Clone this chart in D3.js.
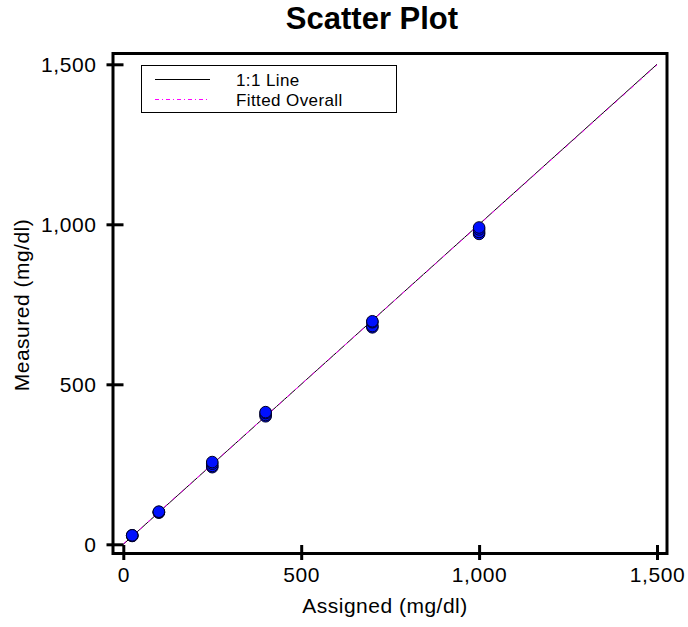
<!DOCTYPE html>
<html lang="en">
<head>
    <meta charset="UTF-8">
    <title>Scatter Plot</title>
    <style>
        body { margin: 0; background: #fff; }
        svg { display: block; font-family: 'Liberation Sans', Arial, sans-serif; }
    </style>
</head>
<body>
    <script src="https://cdnjs.cloudflare.com/ajax/libs/d3/7.8.5/d3.min.js"></script>
    <script>
        // data
        var assignedLevels = [25, 100, 250, 400, 700, 1000];
        var measuredValues = [
            [26, 27, 28, 28],
            [99, 100, 101, 102],
            [241, 245, 252, 257],
            [400, 404, 410, 413],
            [678, 682, 694, 697],
            [970, 976, 984, 990]
        ];
        var tickValues = [0, 500, 1000, 1500];
        var lineRange = [0, 1500];
        var fitSlope = 0.998;
        var fitIntercept = 1;
        var legendLabels = ['1:1 Line', 'Fitted Overall'];

        var points = [];
        assignedLevels.forEach(function (a, i) {
            measuredValues[i].forEach(function (m) {
                points.push({ x: a, y: m });
            });
        });

        var W = 688, H = 627;
        // frame box
        var frame = { left: 113, top: 53.5, right: 667, bottom: 553.5 };

        var x = d3.scaleLinear().domain([0, 1500]).range([123.3, 657]);
        var y = d3.scaleLinear().domain([0, 1500]).range([544.3, 64.3]);

        var svg = d3.select('body')
            .append('svg')
            .attr('width', W)
            .attr('height', H);

        // title
        svg.append('text')
            .attr('x', 372)
            .attr('y', 29)
            .attr('text-anchor', 'middle')
            .style('font-size', '31px')
            .style('font-weight', 'bold')
            .text('Scatter Plot');

        // 1:1 line
        svg.append('line')
            .attr('x1', x(lineRange[0]))
            .attr('y1', y(lineRange[0]))
            .attr('x2', x(lineRange[1]))
            .attr('y2', y(lineRange[1]))
            .attr('stroke', '#000')
            .attr('stroke-width', 1);

        // fitted line
        svg.append('line')
            .attr('x1', x(lineRange[0]))
            .attr('y1', y(fitIntercept + fitSlope * lineRange[0]))
            .attr('x2', x(lineRange[1]))
            .attr('y2', y(fitIntercept + fitSlope * lineRange[1]))
            .attr('stroke', '#ff00ff')
            .attr('stroke-width', 1)
            .attr('stroke-dasharray', '4,3,1,3');

        // points
        svg.selectAll('.dot')
            .data(points)
            .enter()
            .append('circle')
            .attr('class', 'dot')
            .attr('cx', function (d) { return x(d.x); })
            .attr('cy', function (d) { return y(d.y); })
            .attr('r', 5.8)
            .attr('fill', '#0010ff')
            .attr('stroke', '#000022')
            .attr('stroke-width', 1);

        // frame
        svg.append('rect')
            .attr('x', frame.left)
            .attr('y', frame.top)
            .attr('width', frame.right - frame.left)
            .attr('height', frame.bottom - frame.top)
            .attr('fill', 'none')
            .attr('stroke', '#000')
            .attr('stroke-width', 3);

        // axes, ticks cross the frame
        var xAxis = d3.axisBottom(x).tickValues(tickValues).tickFormat(d3.format(',')).tickSize(-15).tickPadding(7);
        var yAxis = d3.axisLeft(y).tickValues(tickValues).tickFormat(d3.format(',')).tickSize(-17).tickPadding(10);

        var gx = svg.append('g')
            .attr('transform', 'translate(0,' + (frame.bottom + 6.5) + ')')
            .call(xAxis);
        var gy = svg.append('g')
            .attr('transform', 'translate(' + (frame.left - 6.5) + ',0)')
            .call(yAxis);

        [gx, gy].forEach(function (g) {
            g.select('.domain').remove();
            g.selectAll('.tick line').attr('stroke', '#000').attr('stroke-width', 3);
            g.selectAll('.tick text')
                .attr('fill', '#000')
                .style('font-size', '21px')
                .style('letter-spacing', '0.6px')
                .style('font-family', "'Liberation Sans', Arial, sans-serif");
        });

        // axis titles
        svg.append('text')
            .attr('x', 385)
            .attr('y', 613)
            .attr('text-anchor', 'middle')
            .style('font-size', '21px')
            .style('letter-spacing', '0.5px')
            .text('Assigned (mg/dl)');

        svg.append('text')
            .attr('transform', 'translate(29,305) rotate(-90)')
            .attr('text-anchor', 'middle')
            .style('font-size', '21px')
            .style('letter-spacing', '0.5px')
            .text('Measured (mg/dl)');

        // legend
        var legend = svg.append('g');
        legend.append('rect')
            .attr('x', 141.5)
            .attr('y', 65.5)
            .attr('width', 255)
            .attr('height', 47)
            .attr('fill', '#fff')
            .attr('stroke', '#000')
            .attr('stroke-width', 1);

        var rows = legend.selectAll('.legend-row')
            .data(legendLabels)
            .enter()
            .append('g')
            .attr('class', 'legend-row')
            .attr('transform', function (d, i) { return 'translate(0,' + (79.5 + i * 20) + ')'; });

        rows.append('line')
            .attr('x1', 155)
            .attr('x2', 210)
            .attr('stroke', function (d, i) { return i === 0 ? '#000' : '#ff00ff'; })
            .attr('stroke-width', 1)
            .attr('stroke-dasharray', function (d, i) { return i === 0 ? null : '4,3,1,3'; });

        rows.append('text')
            .attr('x', 236)
            .attr('y', 6)
            .style('font-size', '17px')
            .style('letter-spacing', '0.4px')
            .text(function (d) { return d; });
    </script>
</body>
</html>
